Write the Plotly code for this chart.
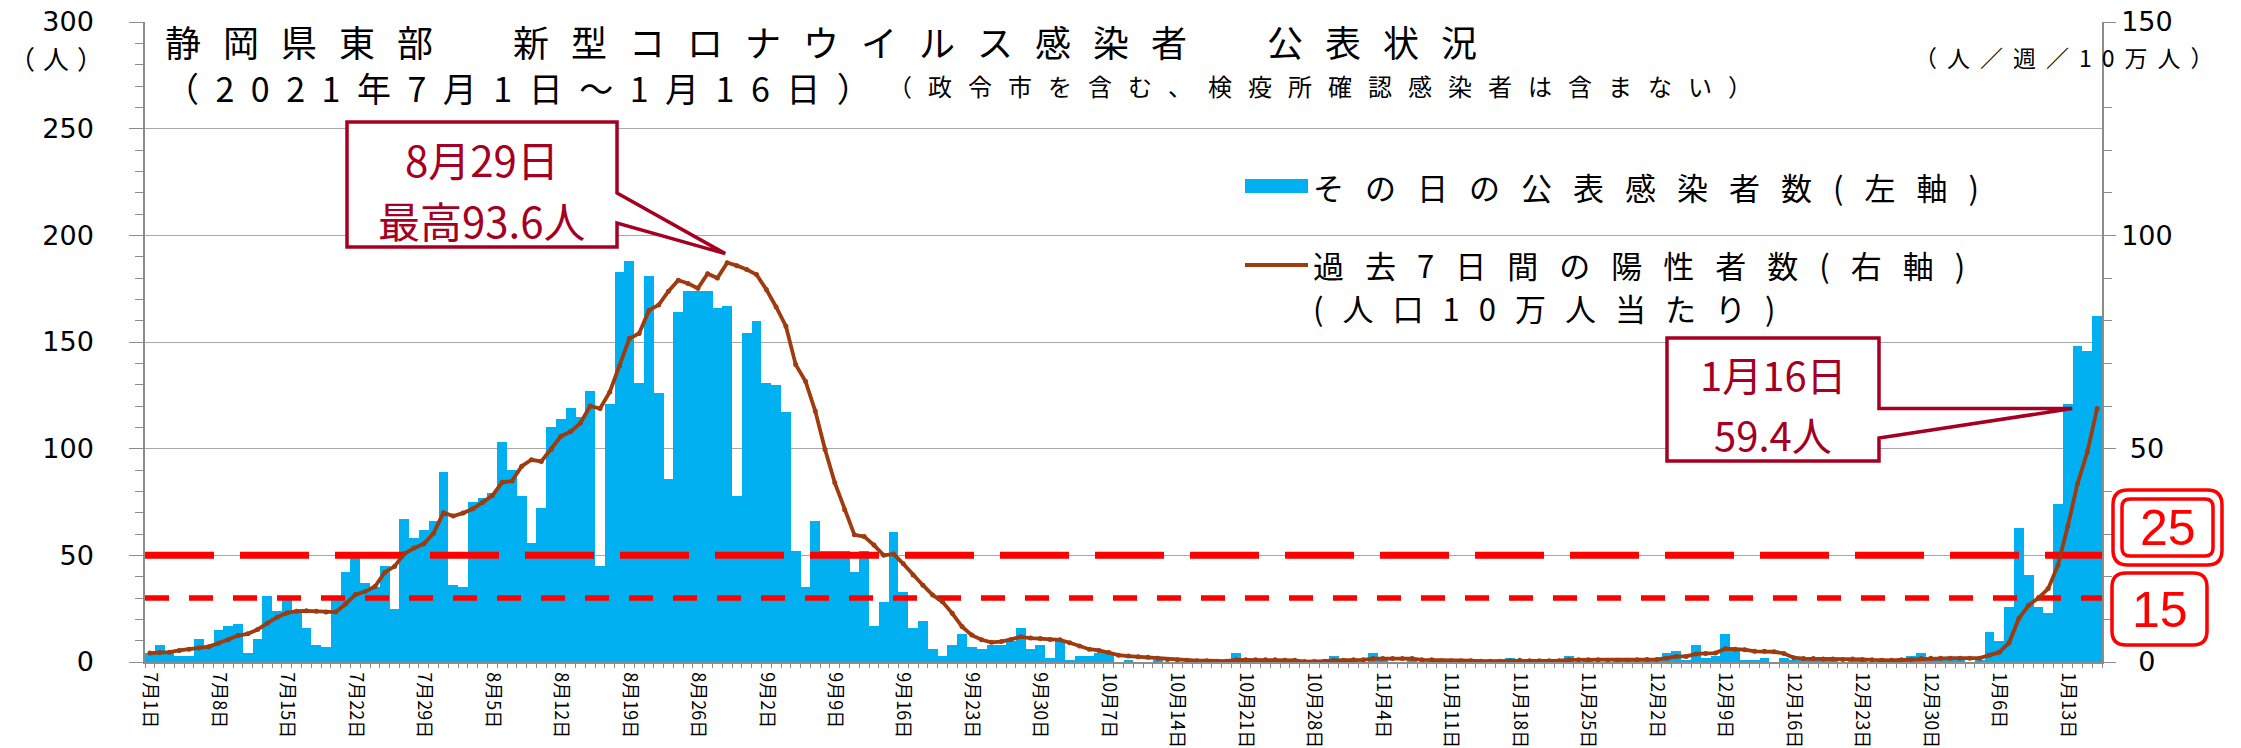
import plotly.graph_objects as go

# ---------------- data ----------------
daily_cases = [
    # July
    4, 8, 4, 3, 3, 11, 7, 15, 17, 18, 4, 11, 31, 24, 29, 23, 16, 8, 7, 31,
    42, 50, 37, 35, 45, 25, 67, 58, 62, 66, 89,
    # August
    36, 35, 75, 77, 79, 103, 90, 78, 56, 72, 110, 114, 119, 115, 127, 45, 121, 183, 188, 131,
    181, 126, 86, 164, 174, 174, 174, 166, 167, 78, 154,
    # September
    160, 131, 130, 117, 52, 35, 66, 52, 52, 52, 42, 52, 17, 28, 61, 33, 16, 19, 6, 3,
    8, 13, 7, 6, 8, 8, 10, 16, 6, 8,
    # October
    2, 10, 1, 3, 3, 4, 4, 0, 1, 0, 0, 1, 0, 0, 0, 1, 0, 0, 0, 4,
    0, 0, 1, 0, 0, 0, 0, 0, 1, 3, 1,
    # November
    1, 0, 4, 1, 0, 0, 1, 0, 0, 1, 0, 0, 1, 0, 0, 0, 2, 1, 0, 0,
    0, 0, 3, 0, 1, 0, 0, 1, 1, 2,
    # December
    2, 1, 4, 5, 1, 8, 2, 3, 13, 5, 1, 1, 2, 0, 2, 1, 2, 2, 1, 1,
    0, 1, 1, 0, 1, 1, 2, 3, 4, 1, 1,
    # January
    1, 1, 0, 1, 14, 10, 26, 63, 41, 26, 23, 74, 121, 148, 146, 162,
]

weekly_per_100k = [
    # July
    2.1, 2.2, 2.3, 2.7, 3.0, 3.3, 3.6, 4.4, 5.2, 6.2, 6.6, 7.6, 9.1, 10.5, 11.5, 11.9,
    12.0, 11.9, 11.7, 11.7, 13.6, 15.8, 16.5, 17.7, 21.0, 22.4, 25.4, 26.7, 27.7, 30.2, 35.0,
    # August
    34.2, 34.9, 35.9, 37.4, 39.0, 42.1, 42.4, 45.9, 47.4, 47.0, 49.8, 52.9, 54.0, 56.0, 60.0,
    59.4, 63.3, 69.4, 75.8, 77.0, 82.4, 83.7, 86.9, 89.5, 88.7, 87.6, 91.0, 90.0, 93.6, 92.9, 92.0,
    # September
    90.8, 87.3, 83.2, 78.7, 69.7, 65.8, 58.8, 49.8, 42.0, 35.7, 29.8, 29.4, 27.4, 25.0, 25.3,
    23.0, 20.4, 18.0, 15.7, 14.1, 11.4, 8.3, 6.3, 5.2, 4.6, 4.8, 5.3, 5.9, 5.6, 5.5,
    # October
    5.3, 5.2, 4.5, 3.75, 3.0, 2.7, 2.2, 1.6, 1.4, 1.25, 1.1, 0.9, 0.6, 0.5, 0.4, 0.3,
    0.3, 0.2, 0.2, 0.5, 0.5, 0.5, 0.5, 0.5, 0.4, 0.4, 0.1, 0.1, 0.2, 0.4, 0.4,
    # November
    0.5, 0.5, 0.8, 0.8, 0.8, 0.8, 0.8, 0.5, 0.5, 0.3, 0.3, 0.3, 0.3, 0.2, 0.2,
    0.2, 0.3, 0.4, 0.3, 0.3, 0.3, 0.3, 0.5, 0.5, 0.5, 0.5, 0.4, 0.4, 0.4, 0.5,
    # December
    0.6, 0.6, 0.9, 1.3, 1.3, 1.9, 2.0, 2.1, 3.1, 3.0, 2.9, 2.5, 2.5, 2.4, 2.0, 1.0,
    0.8, 0.8, 0.7, 0.7, 0.6, 0.7, 0.6, 0.5, 0.4, 0.4, 0.5, 0.6, 0.8, 0.9, 0.9,
    # January
    0.9, 0.9, 0.9, 0.9, 1.6, 2.3, 4.5, 10.2, 13.3, 15.0, 17.2, 22.7, 31.8, 41.8, 49.2, 59.4,
]

tick_labels = [
    "7月1日", "7月8日", "7月15日", "7月22日", "7月29日", "8月5日", "8月12日",
    "8月19日", "8月26日", "9月2日", "9月9日", "9月16日", "9月23日", "9月30日",
    "10月7日", "10月14日", "10月21日", "10月28日", "11月4日", "11月11日",
    "11月18日", "11月25日", "12月2日", "12月9日", "12月16日", "12月23日",
    "12月30日", "1月6日", "1月13日",
]
tick_every = 7

threshold_levels = [25, 15]          # 人/週/10万人 (right axis)
left_ticks = [0, 50, 100, 150, 200, 250, 300]
right_ticks = [0, 50, 100, 150]
right_ticktext = ["\u00a0\u00a00", "\u00a050", "100", "150"]

title_lines = ["静岡県東部　新型コロナウイルス感染者　公表状況", "（2021年7月1日～1月16日）"]
title_note = "（政令市を含む、検疫所確認感染者は含まない）"
legend_bar = "その日の公表感染者数(左軸)"
legend_line = ["過去7日間の陽性者数(右軸)", "(人口10万人当たり)"]
peak_label = ["8月29日", "最高93.6人"]
last_label = ["1月16日", "59.4人"]

# ---------------- geometry ----------------
W, H = 2241, 748
ML, MR, MT, MB = 145, 139, 22, 86
PW, PH = W - ML - MR, H - MT - MB
N = len(daily_cases)
YMAX_L, YMAX_R = 300, 150

FONT = "Noto Sans CJK JP"
NUMFONT = "DejaVu Sans"
BAR_C = "#00B0F0"
LINE_C = "#9E3B0F"
CALL_C = "#A50021"
RED = "#FF0000"
AXIS_C = "#8C8C8C"
GRID_C = "#A8A8A8"


def fx(x):
    return (x - ML) / PW


def fy(y):
    return (H - MB - y) / PH


def px_of(i_center, v_right):
    """pixel position of a point of the right-axis line"""
    return ML + i_center / N * PW, H - MB - v_right / YMAX_R * PH


def path(points, close=True):
    s = "M " + " L ".join(f"{fx(x):.5f},{fy(y):.5f}" for x, y in points)
    return s + (" Z" if close else "")


def rrect(x0, y0, x1, y1, r):
    p = lambda x, y: f"{fx(x):.5f},{fy(y):.5f}"
    return (f"M {p(x0 + r, y0)} L {p(x1 - r, y0)} Q {p(x1, y0)} {p(x1, y0 + r)} "
            f"L {p(x1, y1 - r)} Q {p(x1, y1)} {p(x1 - r, y1)} L {p(x0 + r, y1)} "
            f"Q {p(x0, y1)} {p(x0, y1 - r)} L {p(x0, y0 + r)} Q {p(x0, y0)} {p(x0 + r, y0)} Z")


def sp(text, ls, size=None):
    st = f"letter-spacing:{ls}px"
    if size:
        st += f";font-size:{size}px"
    return f'<span style="{st}">{text}</span>'


xc = [i + 0.5 for i in range(N)]

fig = go.Figure()
fig.add_trace(go.Bar(x=xc, y=daily_cases, width=1, marker=dict(color=BAR_C, line=dict(width=0)),
                     name=legend_bar, yaxis="y"))
for lvl, w, dash in zip(threshold_levels, [7, 5.5], ["69px,26px", "24px,20px"]):
    fig.add_trace(go.Scatter(x=[0, N], y=[lvl, lvl], mode="lines", yaxis="y2",
                             line=dict(color=RED, width=w, dash=dash), hoverinfo="skip"))
fig.add_trace(go.Scatter(x=xc, y=weekly_per_100k, mode="lines+markers", yaxis="y2",
                         name=legend_line[0],
                         line=dict(color=LINE_C, width=3.8),
                         marker=dict(color=LINE_C, size=5)))

fig.update_layout(
    width=W, height=H,
    margin=dict(l=ML, r=MR, t=MT, b=MB, pad=0),
    paper_bgcolor="white", plot_bgcolor="white",
    showlegend=False, bargap=0,
    xaxis=dict(range=[0, N], tickmode="array",
               tickvals=[i + 0.5 for i in range(0, N, tick_every)], ticktext=tick_labels,
               tickangle=90, ticks="", showgrid=False, zeroline=False,
               showline=True, linecolor=AXIS_C, linewidth=1.5,
               tickfont=dict(family=FONT, size=18, color="black"),
               ticklabelstandoff=5, automargin=False,
               minor=dict(tickmode="linear", tick0=0, dtick=1, ticks="outside",
                          ticklen=4, tickcolor=AXIS_C, tickwidth=1, showgrid=False)),
    xaxis2=dict(range=[0, N], overlaying="x", anchor="y", side="bottom",
                tickmode="array", tickvals=list(range(0, N, tick_every)),
                ticks="outside", ticklen=8, tickcolor=AXIS_C, tickwidth=1,
                showticklabels=False, showgrid=False, zeroline=False, showline=False,
                automargin=False),
    yaxis=dict(range=[0, YMAX_L], tickmode="array", tickvals=left_ticks,
               showgrid=True, gridcolor=GRID_C, gridwidth=1, zeroline=False,
               ticks="outside", ticklen=14, tickcolor=AXIS_C, tickwidth=1,
               showline=True, linecolor=AXIS_C, linewidth=1.5,
               tickfont=dict(family=NUMFONT, size=27, color="black"),
               ticklabelstandoff=30, automargin=False,
               minor=dict(tickmode="linear", tick0=0, dtick=10, ticks="outside",
                          ticklen=8, tickcolor=AXIS_C, tickwidth=1, showgrid=False)),
    yaxis2=dict(range=[0, YMAX_R], overlaying="y", side="right", anchor="x",
                tickmode="array", tickvals=right_ticks, ticktext=right_ticktext,
                showgrid=False, zeroline=False,
                ticks="outside", ticklen=12, tickcolor=AXIS_C, tickwidth=1,
                showline=True, linecolor=AXIS_C, linewidth=1.5,
                tickfont=dict(family=NUMFONT, size=27, color="black"),
                ticklabelstandoff=0, automargin=False,
                minor=dict(tickmode="linear", tick0=0, dtick=10, ticks="outside",
                           ticklen=8, tickcolor=AXIS_C, tickwidth=1, showgrid=False)),
)

shapes = []
ann = []


def text(x, y, t, size, color="black", xanchor="left", family=FONT, align="left"):
    ann.append(dict(xref="paper", yref="paper", x=fx(x), y=fy(y), text=t,
                    showarrow=False, xanchor=xanchor, yanchor="middle", align=align,
                    font=dict(family=family, size=size, color=color)))


# titles (two lines, 45 px apart)
text(163, 63.5, sp(title_lines[0], 22, 36) + "<br>" + sp(title_lines[1], 16.5, 34), 34.6)
text(886, 86, sp(title_note, 16), 24)
# axis units
text(60, 57, sp("（人）", 8), 26, xanchor="center")
text(1912, 57, sp("（人／週／10万人）", 10), 23)

# legend (drawn)
shapes.append(dict(type="rect", xref="paper", yref="paper", x0=fx(1245), x1=fx(1308),
                   y0=fy(193), y1=fy(179), fillcolor=BAR_C, line=dict(width=0)))
shapes.append(dict(type="line", xref="paper", yref="paper", x0=fx(1245), x1=fx(1308),
                   y0=fy(265), y1=fy(265), line=dict(color=LINE_C, width=3.8)))
text(1311, 186, sp(legend_bar, 21), 31)
text(1311, 264, sp(legend_line[0], 21), 31)
text(1311, 307, sp(legend_line[1], 19), 31)

# callout for the peak
ipk = max(range(N), key=lambda i: weekly_per_100k[i])
tx, ty = px_of(ipk + 0.5, weekly_per_100k[ipk])
tip = (tx - 2, ty - 9)
shapes.append(dict(type="path", xref="paper", yref="paper", layer="above",
                   path=path([(347, 122), (617, 122), (617, 193), tip, (617, 223),
                              (617, 247), (347, 247)]),
                   fillcolor="white", line=dict(color=CALL_C, width=3.5)))
text(482, 158, peak_label[0], 42, CALL_C, "center")
text(482, 219, peak_label[1], 42, CALL_C, "center")

# callout for the last day
tx2, ty2 = px_of(N - 0.5, weekly_per_100k[-1])
tip2 = (tx2 - 25, ty2)
shapes.append(dict(type="path", xref="paper", yref="paper", layer="above",
                   path=path([(1667, 338), (1879, 338), (1879, ty2), tip2, (1879, 438),
                              (1879, 461), (1667, 461)]),
                   fillcolor="white", line=dict(color=CALL_C, width=3.5)))
text(1773, 374, last_label[0], 40, CALL_C, "center")
text(1773, 434, last_label[1], 40, CALL_C, "center")

# threshold boxes
shapes.append(dict(type="path", xref="paper", yref="paper", path=rrect(2113, 490, 2222, 565, 15),
                   fillcolor="white", line=dict(color=RED, width=3.5)))
shapes.append(dict(type="path", xref="paper", yref="paper", path=rrect(2122, 499, 2213, 556, 8),
                   fillcolor="white", line=dict(color=RED, width=3.5)))
shapes.append(dict(type="path", xref="paper", yref="paper", path=rrect(2112, 573, 2207, 645, 14),
                   fillcolor="white", line=dict(color=RED, width=3.5)))
text(2168, 528, str(threshold_levels[0]), 50, RED, "center", "Liberation Sans")
text(2160, 610, str(threshold_levels[1]), 50, RED, "center", "Liberation Sans")

fig.update_layout(shapes=shapes, annotations=ann)
fig.write_html("out.html")
